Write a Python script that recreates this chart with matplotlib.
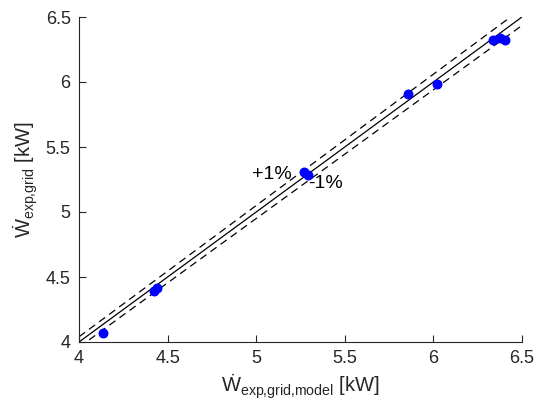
import numpy as np
import matplotlib.pyplot as plt

plt.rcParams['font.family'] = ['Liberation Sans', 'DejaVu Sans']
plt.rcParams['mathtext.fontset'] = 'custom'
plt.rcParams['mathtext.rm'] = 'Liberation Sans'
plt.rcParams['mathtext.it'] = 'Liberation Sans:italic'

# measured data
w_model = [4.134, 4.423, 4.440, 5.27, 5.29, 5.859, 6.019, 6.338, 6.377, 6.406]
w_exp = [4.07, 4.392, 4.415, 5.31, 5.285, 5.904, 5.987, 6.323, 6.335, 6.323]

ref = np.array([4.0, 6.5])
band = 0.01

fig = plt.figure(figsize=(5.37, 4.12), dpi=100)
ax = fig.add_axes([79/537, 1 - 342/412, 443/537, 325/412])

ax.plot(ref, ref, color='k', lw=0.9)
ax.plot(ref, ref * (1 + band), color='k', lw=0.9, ls=(0, (6, 4)))
ax.plot(ref, ref * (1 - band), color='k', lw=0.9, ls=(0, (6, 4)))
ax.scatter(w_model, w_exp, s=38, color='#0000ff', zorder=3)

ax.text(5.087, 5.285, '+1%', fontsize=14, ha='center', va='center')
ax.text(5.39, 5.223, '-1%', fontsize=14, ha='center', va='center')

ax.set_xlim(4, 6.5)
ax.set_ylim(4, 6.5)
ax.set_xticks([4, 4.5, 5, 5.5, 6, 6.5])
ax.set_yticks([4, 4.5, 5, 5.5, 6, 6.5])
ax.set_xticklabels(['4', '4.5', '5', '5.5', '6', '6.5'])
ax.set_yticklabels(['4', '4.5', '5', '5.5', '6', '6.5'])
ax.tick_params(direction='in', labelsize=13, colors='#262626', length=5, pad=6)
for s in ['top', 'right']:
    ax.spines[s].set_visible(False)
for s in ['left', 'bottom']:
    ax.spines[s].set_color('#262626')

ax.set_xlabel(r'$\dot{\mathrm{W}}_{\mathrm{exp{,}grid{,}model}}$ [kW]', fontsize=14.5, color='#262626')
ax.set_ylabel(r'$\dot{\mathrm{W}}_{\mathrm{exp{,}grid}}$ [kW]', fontsize=14.5, color='#262626')

fig.savefig('out.png', dpi=100)
